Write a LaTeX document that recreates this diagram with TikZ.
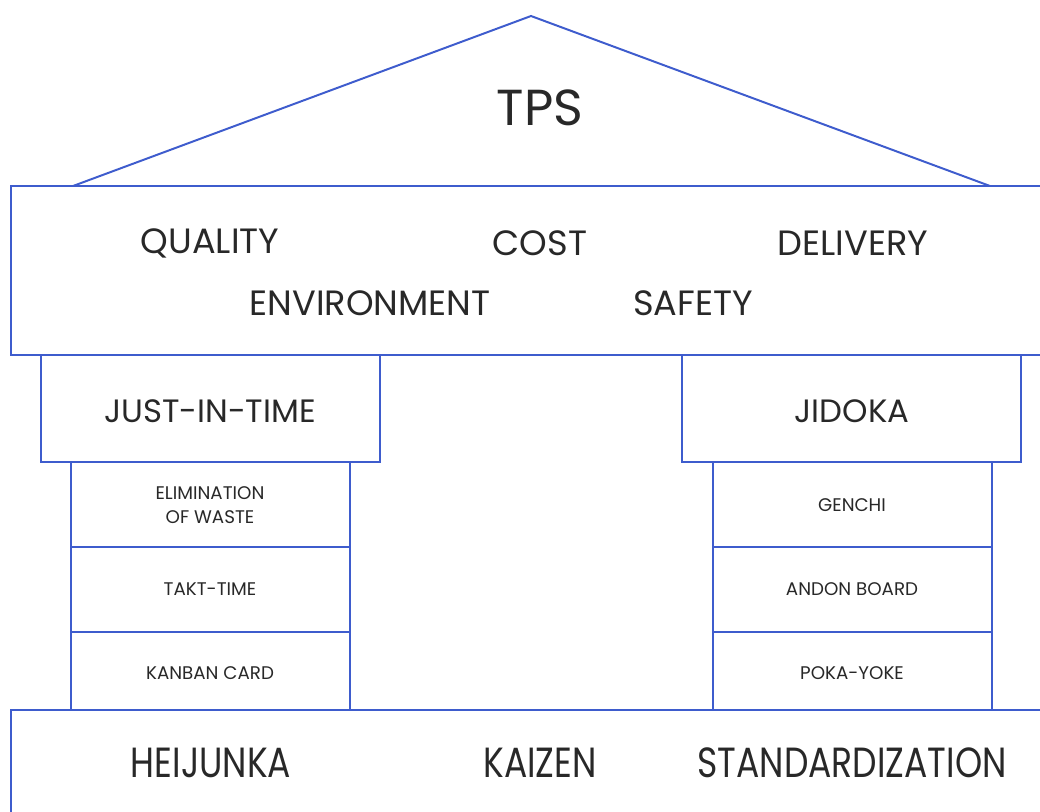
\documentclass[tikz,border=0pt]{standalone}
\usepackage{fontspec}
\setmainfont{Poppins}
\definecolor{houseblue}{RGB}{62,92,205}
\definecolor{housetext}{RGB}{40,40,40}

\begin{document}
\begin{tikzpicture}[x=0.025cm,y=-0.025cm]
\tikzset{wall/.style={draw=houseblue,line width=1.4pt},
	word/.style={text=housetext,inner sep=0pt,align=center},
	big/.style={word,font=\fontsize{25}{28}\selectfont},
	small/.style={word,font=\fontsize{13}{17}\selectfont},
	base/.style={word,xscale=.82,font=\fontsize{30}{34}\selectfont}}
\useasboundingbox (0,0) rectangle (1040,811);
\begin{scope}
\clip (0,0) rectangle (1040,811);
% roof and beams
\draw[wall] (73,186) -- (531,16) -- (990,186);
\draw[wall] (11,186) rectangle (1050,355);
\draw[wall] (41,355) rectangle (380,462);
\draw[wall] (682,355) rectangle (1021,462);
\draw[wall] (11,710) rectangle (1050,830);

% pillars
\foreach \x in {71,713}{%
	\draw[wall] (\x,462) rectangle ({\x+279},710);
	\draw[wall] (\x,547) -- ({\x+279},547);
	\draw[wall] (\x,632) -- ({\x+279},632);
}%
\end{scope}

\node[word,font=\fontsize{36}{40}\selectfont] (tps) at (540,108) {TPS};

\node[big] (quality) at (210,243) {QUALITY};
\node[big] (cost) at (540,243) {COST};
\node[big] (delivery) at (853,243) {DELIVERY};
\node[big] (environment) at (370,303) {ENVIRONMENT};
\node[big] (safety) at (693,303) {SAFETY};

\node[big,font=\fontsize{23}{26}\selectfont] (jit) at (210,411) {JUST-IN-TIME};
\node[big,font=\fontsize{23}{26}\selectfont] (jidoka) at (852,411) {JIDOKA};

\foreach \n/\y/\a/\b in {waste/505/{ELIMINATION\\OF WASTE}/GENCHI,takt/589/TAKT-TIME/ANDON BOARD,kanban/673/KANBAN CARD/POKA-YOKE}{%
	\node[small] (\n) at (210,\y) {\a};
	\node[small] (\n-r) at (852,\y) {\b};
}%

\node[base] (heijunka) at (211,763) {HEIJUNKA};
\node[base] (kaizen) at (540,763) {KAIZEN};
\node[base] (standard) at (852,763) {STANDARDIZATION};
\end{tikzpicture}
\end{document}
